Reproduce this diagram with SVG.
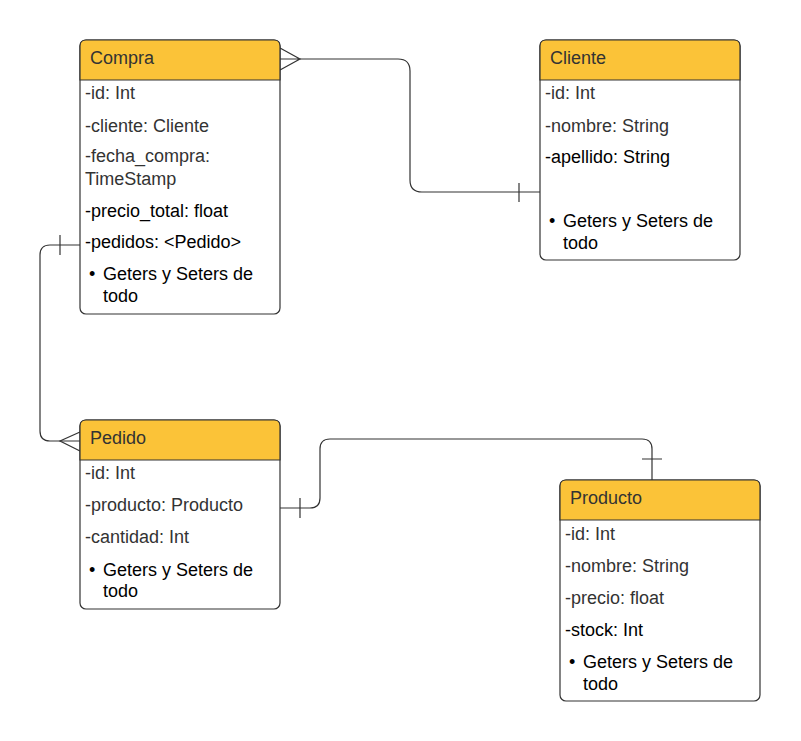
<svg xmlns="http://www.w3.org/2000/svg" width="801" height="741" viewBox="0 0 801 741">
<style>
.box{fill:#fff;stroke:#333;stroke-width:1.2}
.hdr{fill:#FBC338;stroke:#333;stroke-width:1.2}
.t{font-family:"Liberation Sans",Arial,sans-serif;font-size:18px;fill:#333}
.b{font-family:"Liberation Sans",Arial,sans-serif;font-size:18px;fill:#000}
.ttl{font-family:"Liberation Sans",Arial,sans-serif;font-size:18px;fill:#333}
.c{fill:none;stroke:#333;stroke-width:1.2}
</style>
<rect width="801" height="741" fill="#fff"/>
<g id="connectors">
<path class="c" d="M300,59 H398 Q410,59 410,71 V180 Q410,192 422,192 H540"/>
<path class="c" d="M280,48 L300,59 L280,70 M280,59 H300"/>
<path class="c" d="M519,183 V202"/>
<path class="c" d="M80,245 H50 Q40,245 40,255 V431 Q40,441 50,441 H80"/>
<path class="c" d="M80,432 L60,441 L80,451"/>
<path class="c" d="M60,235 V255"/>
<path class="c" d="M280,508 H310 Q320,508 320,498 V449 Q320,439 330,439 H642 Q652,439 652,449 V480"/>
<path class="c" d="M300,498 V518 M642,459 H662"/>
</g>
<g id="compra">
<rect class="box" x="80" y="40" width="200" height="274" rx="6"/>
<path class="hdr" d="M80,80 V46 Q80,40 86,40 H274 Q280,40 280,46 V80 Z"/>
<text class="ttl" x="90" y="64">Compra</text>
<text class="t" x="85" y="99">-id: Int</text>
<text class="t" x="85" y="132">-cliente: Cliente</text>
<text class="t" x="85" y="162">-fecha_compra:</text>
<text class="t" x="85" y="185">TimeStamp</text>
<text class="b" x="85" y="217">-precio_total: float</text>
<text class="b" x="85" y="248">-pedidos: &lt;Pedido&gt;</text>
<text class="b" x="89" y="280">•</text>
<text class="b" x="103" y="280">Geters y Seters de</text>
<text class="b" x="103" y="302">todo</text>
</g>
<g id="cliente">
<rect class="box" x="540" y="40" width="200" height="220" rx="6"/>
<path class="hdr" d="M540,80 V46 Q540,40 546,40 H734 Q740,40 740,46 V80 Z"/>
<text class="ttl" x="550" y="64">Cliente</text>
<text class="t" x="545" y="99">-id: Int</text>
<text class="t" x="545" y="132">-nombre: String</text>
<text class="b" x="545" y="163">-apellido: String</text>
<text class="b" x="549" y="227">•</text>
<text class="b" x="563" y="227">Geters y Seters de</text>
<text class="b" x="563" y="249">todo</text>
</g>
<g id="pedido">
<rect class="box" x="80" y="420" width="200" height="189" rx="6"/>
<path class="hdr" d="M80,460 V426 Q80,420 86,420 H274 Q280,420 280,426 V460 Z"/>
<text class="ttl" x="90" y="444">Pedido</text>
<text class="t" x="85" y="479">-id: Int</text>
<text class="t" x="85" y="511">-producto: Producto</text>
<text class="t" x="85" y="543">-cantidad: Int</text>
<text class="b" x="89" y="576">•</text>
<text class="b" x="103" y="576">Geters y Seters de</text>
<text class="b" x="103" y="597">todo</text>
</g>
<g id="producto">
<rect class="box" x="560" y="480" width="200" height="221" rx="6"/>
<path class="hdr" d="M560,520 V486 Q560,480 566,480 H754 Q760,480 760,486 V520 Z"/>
<text class="ttl" x="570" y="504">Producto</text>
<text class="t" x="565" y="540">-id: Int</text>
<text class="t" x="565" y="572">-nombre: String</text>
<text class="t" x="565" y="604">-precio: float</text>
<text class="b" x="565" y="636">-stock: Int</text>
<text class="b" x="569" y="668">•</text>
<text class="b" x="583" y="668">Geters y Seters de</text>
<text class="b" x="583" y="690">todo</text>
</g>
</svg>
